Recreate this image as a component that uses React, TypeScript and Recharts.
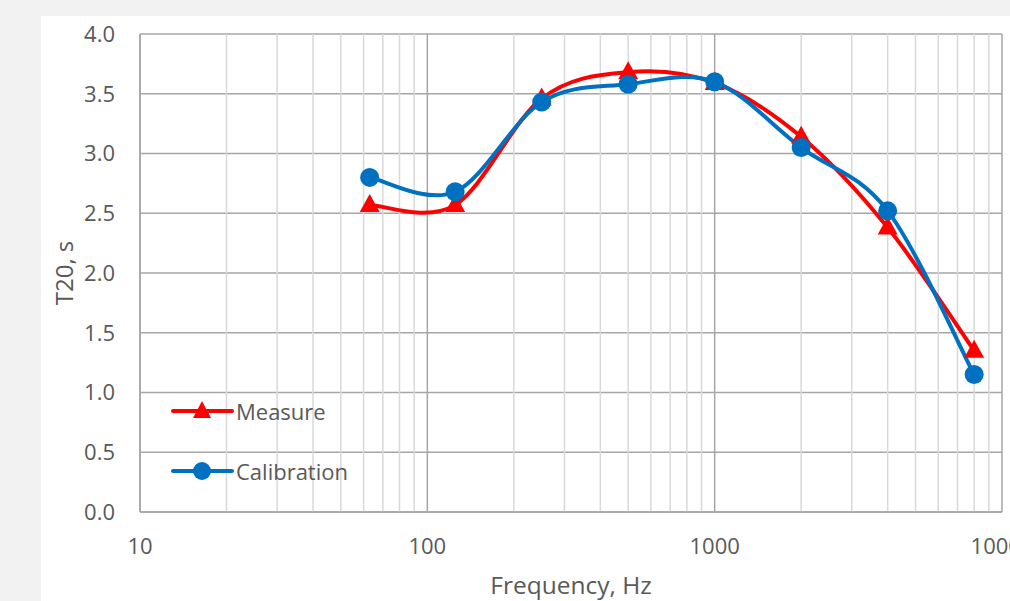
import React from 'react'
import { LineChart, Line, XAxis, YAxis, CartesianGrid, ReferenceLine } from 'recharts'

const frequencies = [63, 125, 250, 500, 1000, 2000, 4000, 8000]
const measure = [2.57, 2.57, 3.46, 3.68, 3.59, 3.14, 2.38, 1.35]
const calibration = [2.8, 2.68, 3.43, 3.58, 3.6, 3.05, 2.52, 1.15]

const xTicks = [10, 100, 1000, 10000]
const minorX = [20, 30, 40, 50, 60, 70, 80, 90, 200, 300, 400, 500, 600, 700, 800, 900, 2000, 3000, 4000, 5000, 6000, 7000, 8000, 9000]
const yTicks = [0, 0.5, 1, 1.5, 2, 2.5, 3, 3.5, 4]

const data = frequencies.map((f, i) => ({ f, measure: measure[i], calibration: calibration[i] }))

const RED = '#ff0000'
const BLUE = '#0070c0'
const TEXT = '#595959'
const FONT = '"Open Sans", sans-serif'

// roughly what excel does for "smoothed line": catmull-rom as cubic beziers
const smoothCurve = (ctx: any) => {
  let pts: number[][] = []
  return {
    areaStart() {},
    areaEnd() {},
    lineStart() { pts = [] },
    point(x: number, y: number) { pts.push([+x, +y]) },
    lineEnd() {
      const n = pts.length
      if (!n) return
      ctx.moveTo(pts[0][0], pts[0][1])
      for (let i = 0; i < n - 1; i++) {
        const p0 = pts[Math.max(i - 1, 0)]
        const p1 = pts[i]
        const p2 = pts[i + 1]
        const p3 = pts[Math.min(i + 2, n - 1)]
        ctx.bezierCurveTo(
          p1[0] + (p2[0] - p0[0]) / 6, p1[1] + (p2[1] - p0[1]) / 6,
          p2[0] - (p3[0] - p1[0]) / 6, p2[1] - (p3[1] - p1[1]) / 6,
          p2[0], p2[1]
        )
      }
    },
  }
}

const Triangle = (props: any) => {
  const { cx, cy, key } = props
  if (cx == null || cy == null) return null
  return <polygon key={key} points={`${cx},${cy - 11} ${cx + 10},${cy + 7} ${cx - 10},${cy + 7}`} fill={RED} />
}

const Circle = (props: any) => {
  const { cx, cy, key } = props
  if (cx == null || cy == null) return null
  return <circle key={key} cx={cx} cy={cy} r={9.5} fill={BLUE} />
}

const legendRows = [
  { name: 'Measure', color: RED, shape: 'tri' },
  { name: 'Calibration', color: BLUE, shape: 'circle' },
]

export default function App() {
  return (
    <div style={{ position: 'absolute', left: 0, top: 0, width: 1010, height: 601, background: '#f2f2f2', overflow: 'hidden' }}>
      <div style={{ position: 'absolute', left: 41, top: 16, width: 1100, height: 585, background: '#ffffff' }}>
        <LineChart width={1060} height={585} data={data} margin={{ top: 18, right: 99, left: 0, bottom: 0 }}>
          <CartesianGrid vertical={false} stroke="#a6a6a6" strokeWidth={1.5} />
          {minorX.map((v) => (
            <ReferenceLine key={v} x={v} stroke="#d9d9d9" strokeWidth={1.5} />
          ))}
          {xTicks.map((v) => (
            <ReferenceLine key={'M' + v} x={v} stroke="#a6a6a6" strokeWidth={1.5} />
          ))}
          <XAxis
            dataKey="f"
            type="number"
            scale="log"
            domain={[10, 10000]}
            ticks={xTicks}
            allowDataOverflow
            height={89}
            axisLine={{ stroke: '#a6a6a6', strokeWidth: 1.5 }}
            tickLine={false}
            tick={{ fill: TEXT, fontSize: 22, fontFamily: FONT }}
            tickMargin={20}
            label={{ value: 'Frequency, Hz', position: 'insideBottom', offset: 7, fill: TEXT, fontSize: 24.5, fontFamily: FONT }}
          />
          <YAxis
            type="number"
            domain={[0, 4]}
            ticks={yTicks}
            width={99}
            axisLine={{ stroke: '#a6a6a6', strokeWidth: 1.5 }}
            tickLine={false}
            tick={{ fill: TEXT, fontSize: 22, fontFamily: FONT }}
            tickMargin={19}
            tickFormatter={(v: number) => v.toFixed(1)}
            label={{ value: 'T20, s', angle: -90, position: 'insideLeft', offset: 23, fill: TEXT, fontSize: 24, fontFamily: FONT, style: { textAnchor: 'middle' } }}
          />
          <Line
            dataKey="measure"
            type={smoothCurve as any}
            stroke={RED}
            strokeWidth={4}
            dot={Triangle}
            activeDot={false}
            isAnimationActive={false}
          />
          <Line
            dataKey="calibration"
            type={smoothCurve as any}
            stroke={BLUE}
            strokeWidth={4}
            dot={Circle}
            activeDot={false}
            isAnimationActive={false}
          />
        </LineChart>
        <div style={{ position: 'absolute', left: 130, top: 365 }}>
          {legendRows.map((r) => (
            <div key={r.name} style={{ display: 'flex', alignItems: 'center', height: 60 }}>
              <svg width={64} height={24}>
                <line x1={2} y1={12} x2={61} y2={12} stroke={r.color} strokeWidth={4} strokeLinecap="round" />
                {r.shape === 'tri'
                  ? <polygon points="31,2 40,19 22,19" fill={r.color} />
                  : <circle cx={31} cy={12} r={9} fill={r.color} />}
              </svg>
              <span style={{ fontFamily: FONT, fontSize: 22, color: TEXT, marginLeft: 1 }}>{r.name}</span>
            </div>
          ))}
        </div>
      </div>
    </div>
  )
}
